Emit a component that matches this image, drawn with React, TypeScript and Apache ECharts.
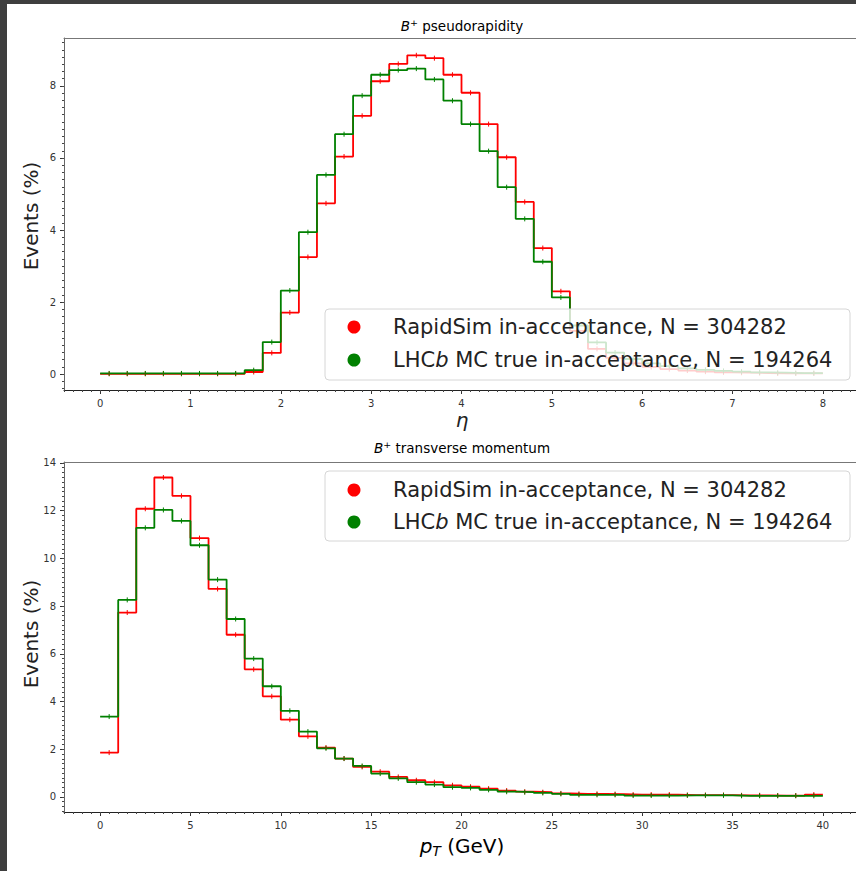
import React, { useEffect, useRef } from "react";
import * as echarts from "echarts";

// ---------- data ----------
const ETA_BIN_START = 0;
const ETA_BIN_WIDTH = 0.2;
const PT_BIN_START = 0;
const PT_BIN_WIDTH = 1;

// B+ pseudorapidity, events (%) per 0.2 bin from 0 to 8
const RAPIDSIM_ETA = [
  0.01, 0.01, 0.01, 0.01, 0.01, 0.01, 0.01, 0.01,
  0.06, 0.59, 1.71, 3.25, 4.74, 6.04, 7.17, 8.13, 8.61, 8.85, 8.77, 8.31,
  7.81, 6.94, 6.02, 4.78, 3.5, 2.3, 1.2, 0.7, 0.45, 0.3,
  0.2, 0.14, 0.1, 0.07, 0.05, 0.04, 0.03, 0.02, 0.02, 0.02,
];
const LHCB_ETA = [
  0.02, 0.02, 0.02, 0.02, 0.02, 0.02, 0.02, 0.02,
  0.11, 0.89, 2.32, 3.94, 5.53, 6.66, 7.73, 8.31, 8.44, 8.48, 8.18, 7.59,
  6.94, 6.19, 5.19, 4.31, 3.12, 2.13, 1.35, 0.88, 0.6, 0.42,
  0.3, 0.22, 0.16, 0.12, 0.09, 0.07, 0.05, 0.04, 0.03, 0.03,
];

// B+ transverse momentum, events (%) per 1 GeV bin from 0 to 40
const RAPIDSIM_PT = [
  1.86, 7.73, 12.08, 13.39, 12.62, 10.85, 8.72, 6.8, 5.35, 4.22,
  3.24, 2.54, 2.07, 1.61, 1.26, 1.06, 0.84, 0.7, 0.62, 0.49,
  0.43, 0.35, 0.27, 0.22, 0.2, 0.15, 0.13, 0.13, 0.12, 0.1,
  0.1, 0.1, 0.08, 0.08, 0.08, 0.07, 0.07, 0.06, 0.06, 0.1,
];
const LHCB_PT = [
  3.37, 8.26, 11.28, 12.03, 11.57, 10.55, 9.11, 7.46, 5.8, 4.64,
  3.61, 2.74, 2.04, 1.61, 1.3, 0.98, 0.78, 0.62, 0.52, 0.41,
  0.38, 0.3, 0.22, 0.2, 0.17, 0.13, 0.09, 0.09, 0.09, 0.06,
  0.06, 0.06, 0.07, 0.07, 0.07, 0.05, 0.05, 0.05, 0.05, 0.05,
];

const ETA_TICKS = [0, 1, 2, 3, 4, 5, 6, 7, 8];
const ETA_EVENT_TICKS = [0, 2, 4, 6, 8];
const PT_TICKS = [0, 5, 10, 15, 20, 25, 30, 35, 40];
const PT_EVENT_TICKS = [0, 2, 4, 6, 8, 10, 12, 14];

const RAPIDSIM_NAME = "RapidSim in-acceptance, N = 304282";
const LHCB_NAME_PARTS = ["LHC", "b", " MC true in-acceptance, N = 194264"];
const LHCB_NAME = LHCB_NAME_PARTS.join("");
const SERIES_NAMES = [RAPIDSIM_NAME, LHCB_NAME];

const RED = "#ff0000";
const GREEN = "#008000";
const FONT = "DejaVu Sans";

// ---------- helpers ----------
function stepPoints(values: number[], start: number, width: number) {
  const pts = values.map((v, i) => [start + i * width, v]);
  pts.push([start + values.length * width, values[values.length - 1]]);
  return pts;
}
function centerPoints(values: number[], start: number, width: number) {
  return values.map((v, i) => [start + (i + 0.5) * width, v]);
}
function tickRange(min: number, max: number, step: number) {
  const out: number[] = [];
  const k0 = Math.ceil(min / step - 1e-9);
  const k1 = Math.floor(max / step + 1e-9);
  for (let k = k0; k <= k1; k++) out.push(+(k * step).toFixed(6));
  return out;
}

const X1 = { min: -0.4, max: 8.4 };
const Y1 = { min: -0.44, max: 9.33 };
const X2 = { min: -2, max: 42 };
const Y2 = { min: -0.63, max: 14.04 };

const labelStyle = { fontFamily: FONT, fontSize: 10, color: "#333", margin: 8 };

function xAxes(gridIndex: number, r: { min: number; max: number }, ticks: number[], minorStep: number) {
  return [
    {
      gridIndex, type: "value", min: r.min, max: r.max, position: "bottom",
      axisLine: { show: true, onZero: false, lineStyle: { color: "#222", width: 1 } },
      axisTick: { show: true, customValues: ticks, length: 4, lineStyle: { color: "#333" } },
      axisLabel: { show: true, customValues: ticks, ...labelStyle },
      splitLine: { show: false },
    },
    {
      gridIndex, type: "value", min: r.min, max: r.max, position: "bottom",
      axisLine: { show: false, onZero: false },
      axisTick: { show: true, customValues: tickRange(r.min, r.max, minorStep), length: 2, lineStyle: { color: "#444" } },
      axisLabel: { show: false },
      splitLine: { show: false },
    },
    {
      gridIndex, type: "value", min: r.min, max: r.max, position: "top",
      axisLine: { show: true, onZero: false, lineStyle: { color: "#777", width: 1 } },
      axisTick: { show: false },
      axisLabel: { show: false },
      splitLine: { show: false },
    },
  ];
}
function yAxes(gridIndex: number, r: { min: number; max: number }, ticks: number[], minorStep: number) {
  return [
    {
      gridIndex, type: "value", min: r.min, max: r.max, position: "left",
      axisLine: { show: true, onZero: false, lineStyle: { color: "#666", width: 1 } },
      axisTick: { show: true, customValues: ticks, length: 4, lineStyle: { color: "#333" } },
      axisLabel: { show: true, customValues: ticks, ...labelStyle },
      splitLine: { show: false },
    },
    {
      gridIndex, type: "value", min: r.min, max: r.max, position: "left",
      axisLine: { show: false, onZero: false },
      axisTick: { show: true, customValues: tickRange(r.min, r.max, minorStep), length: 2, lineStyle: { color: "#444" } },
      axisLabel: { show: false },
      splitLine: { show: false },
    },
  ];
}

function histSeries(name: string, values: number[], start: number, width: number, color: string, xi: number, yi: number) {
  return [
    {
      name, type: "line", step: "end", xAxisIndex: xi, yAxisIndex: yi,
      data: stepPoints(values, start, width), showSymbol: false, symbol: "none",
      color, itemStyle: { color }, lineStyle: { color, width: 1.8 },
      silent: true, z: 2,
    },
    {
      type: "custom", xAxisIndex: xi, yAxisIndex: yi,
      data: centerPoints(values, start, width), silent: true, z: 3,
      renderItem: (_p: any, api: any) => {
        const c = api.coord([api.value(0), api.value(1)]);
        return {
          type: "line",
          shape: { x1: c[0], y1: c[1] - 2.5, x2: c[0], y2: c[1] + 2.5 },
          style: { stroke: color, lineWidth: 1 },
        };
      },
    },
  ];
}

function legendCfg(top: number, gap: number) {
  const t = { fontFamily: FONT, fontSize: 21, color: "#222", lineHeight: 24 };
  return {
    data: SERIES_NAMES, orient: "vertical", left: 347.5, top, padding: 0,
    itemWidth: 68, itemHeight: 13, itemGap: gap, icon: "circle", z: 5,
    textStyle: { ...t, rich: { t, i: { ...t, fontStyle: "italic" } } },
    formatter: (name: string) =>
      name === LHCB_NAME
        ? `{t|${LHCB_NAME_PARTS[0]}}{i|${LHCB_NAME_PARTS[1]}}{t|${LHCB_NAME_PARTS[2]}}`
        : `{t|${name}}`,
  };
}

function titleText(y: number, rest: string) {
  const n = { fontFamily: FONT, fontSize: 13.5, color: "#222", lineHeight: 18 };
  return {
    type: "text", x: 462, y, z: 10,
    style: {
      text: `{i|B}{s|+}{n|${rest}}`, align: "center", verticalAlign: "middle",
      rich: { n, i: { ...n, fontStyle: "italic" }, s: { ...n, fontSize: 9.5, verticalAlign: "top" } },
    },
  };
}

export default function App() {
  const ref = useRef<HTMLDivElement>(null);
  useEffect(() => {
    if (!ref.current) return;
    const chart = echarts.init(ref.current, null, { renderer: "svg" });
    const axisTitle = { fontFamily: FONT, fontSize: 20, color: "#222" };
    const option: any = {
      animation: false,
      backgroundColor: "#ffffff",
      grid: [
        { left: 64, top: 38, width: 795, height: 352, outerBoundsMode: "none", containLabel: false },
        { left: 64, top: 462, width: 795, height: 350, outerBoundsMode: "none", containLabel: false },
      ],
      xAxis: [...xAxes(0, X1, ETA_TICKS, 0.1), ...xAxes(1, X2, PT_TICKS, 0.5)],
      yAxis: [...yAxes(0, Y1, ETA_EVENT_TICKS, 0.2), ...yAxes(1, Y2, PT_EVENT_TICKS, 0.2)],
      legend: [legendCfg(315, 9), legendCfg(478, 8)],
      series: [
        ...histSeries(RAPIDSIM_NAME, RAPIDSIM_ETA, ETA_BIN_START, ETA_BIN_WIDTH, RED, 0, 0),
        ...histSeries(LHCB_NAME, LHCB_ETA, ETA_BIN_START, ETA_BIN_WIDTH, GREEN, 0, 0),
        ...histSeries(RAPIDSIM_NAME, RAPIDSIM_PT, PT_BIN_START, PT_BIN_WIDTH, RED, 3, 2),
        ...histSeries(LHCB_NAME, LHCB_PT, PT_BIN_START, PT_BIN_WIDTH, GREEN, 3, 2),
      ],
      graphic: [
        // legend frames
        { type: "rect", z: 4, shape: { x: 325, y: 309, width: 525, height: 71, r: 4 },
          style: { fill: "rgba(255,255,255,0.8)", stroke: "#d6d6d6", lineWidth: 1 } },
        { type: "rect", z: 4, shape: { x: 325, y: 471, width: 525, height: 70, r: 4 },
          style: { fill: "rgba(255,255,255,0.8)", stroke: "#d6d6d6", lineWidth: 1 } },
        titleText(26, " pseudorapidity"),
        titleText(448, " transverse momentum"),
        { type: "text", x: 462, y: 420, z: 10,
          style: { text: "η", fontFamily: FONT, fontSize: 20, fontStyle: "italic", fill: "#222", align: "center", verticalAlign: "middle" } },
        { type: "text", x: 462, y: 846, z: 10,
          style: {
            text: "{p|p}{s|T}{n| (GeV)}", align: "center", verticalAlign: "middle",
            rich: {
              p: { ...axisTitle, fontStyle: "italic", lineHeight: 24 },
              s: { ...axisTitle, fontSize: 14, fontStyle: "italic", verticalAlign: "bottom", lineHeight: 24 },
              n: { ...axisTitle, lineHeight: 24 },
            },
          } },
        { type: "text", x: 31, y: 216, rotation: Math.PI / 2, z: 10,
          style: { text: "Events (%)", ...axisTitle, fill: "#222", align: "center", verticalAlign: "middle" } },
        { type: "text", x: 31, y: 634, rotation: Math.PI / 2, z: 10,
          style: { text: "Events (%)", ...axisTitle, fill: "#222", align: "center", verticalAlign: "middle" } },
        // dark window edges
        { type: "rect", z: 100, shape: { x: 0, y: 0, width: 7, height: 871 }, style: { fill: "#3e3e3e" } },
        { type: "rect", z: 100, shape: { x: 0, y: 0, width: 856, height: 4 }, style: { fill: "#3e3e3e" } },
      ],
    };
    chart.setOption(option);
    return () => chart.dispose();
  }, []);
  return (
    <div
      ref={ref}
      style={{ position: "absolute", left: 0, top: 0, width: 856, height: 871, background: "#fff" }}
    />
  );
}
